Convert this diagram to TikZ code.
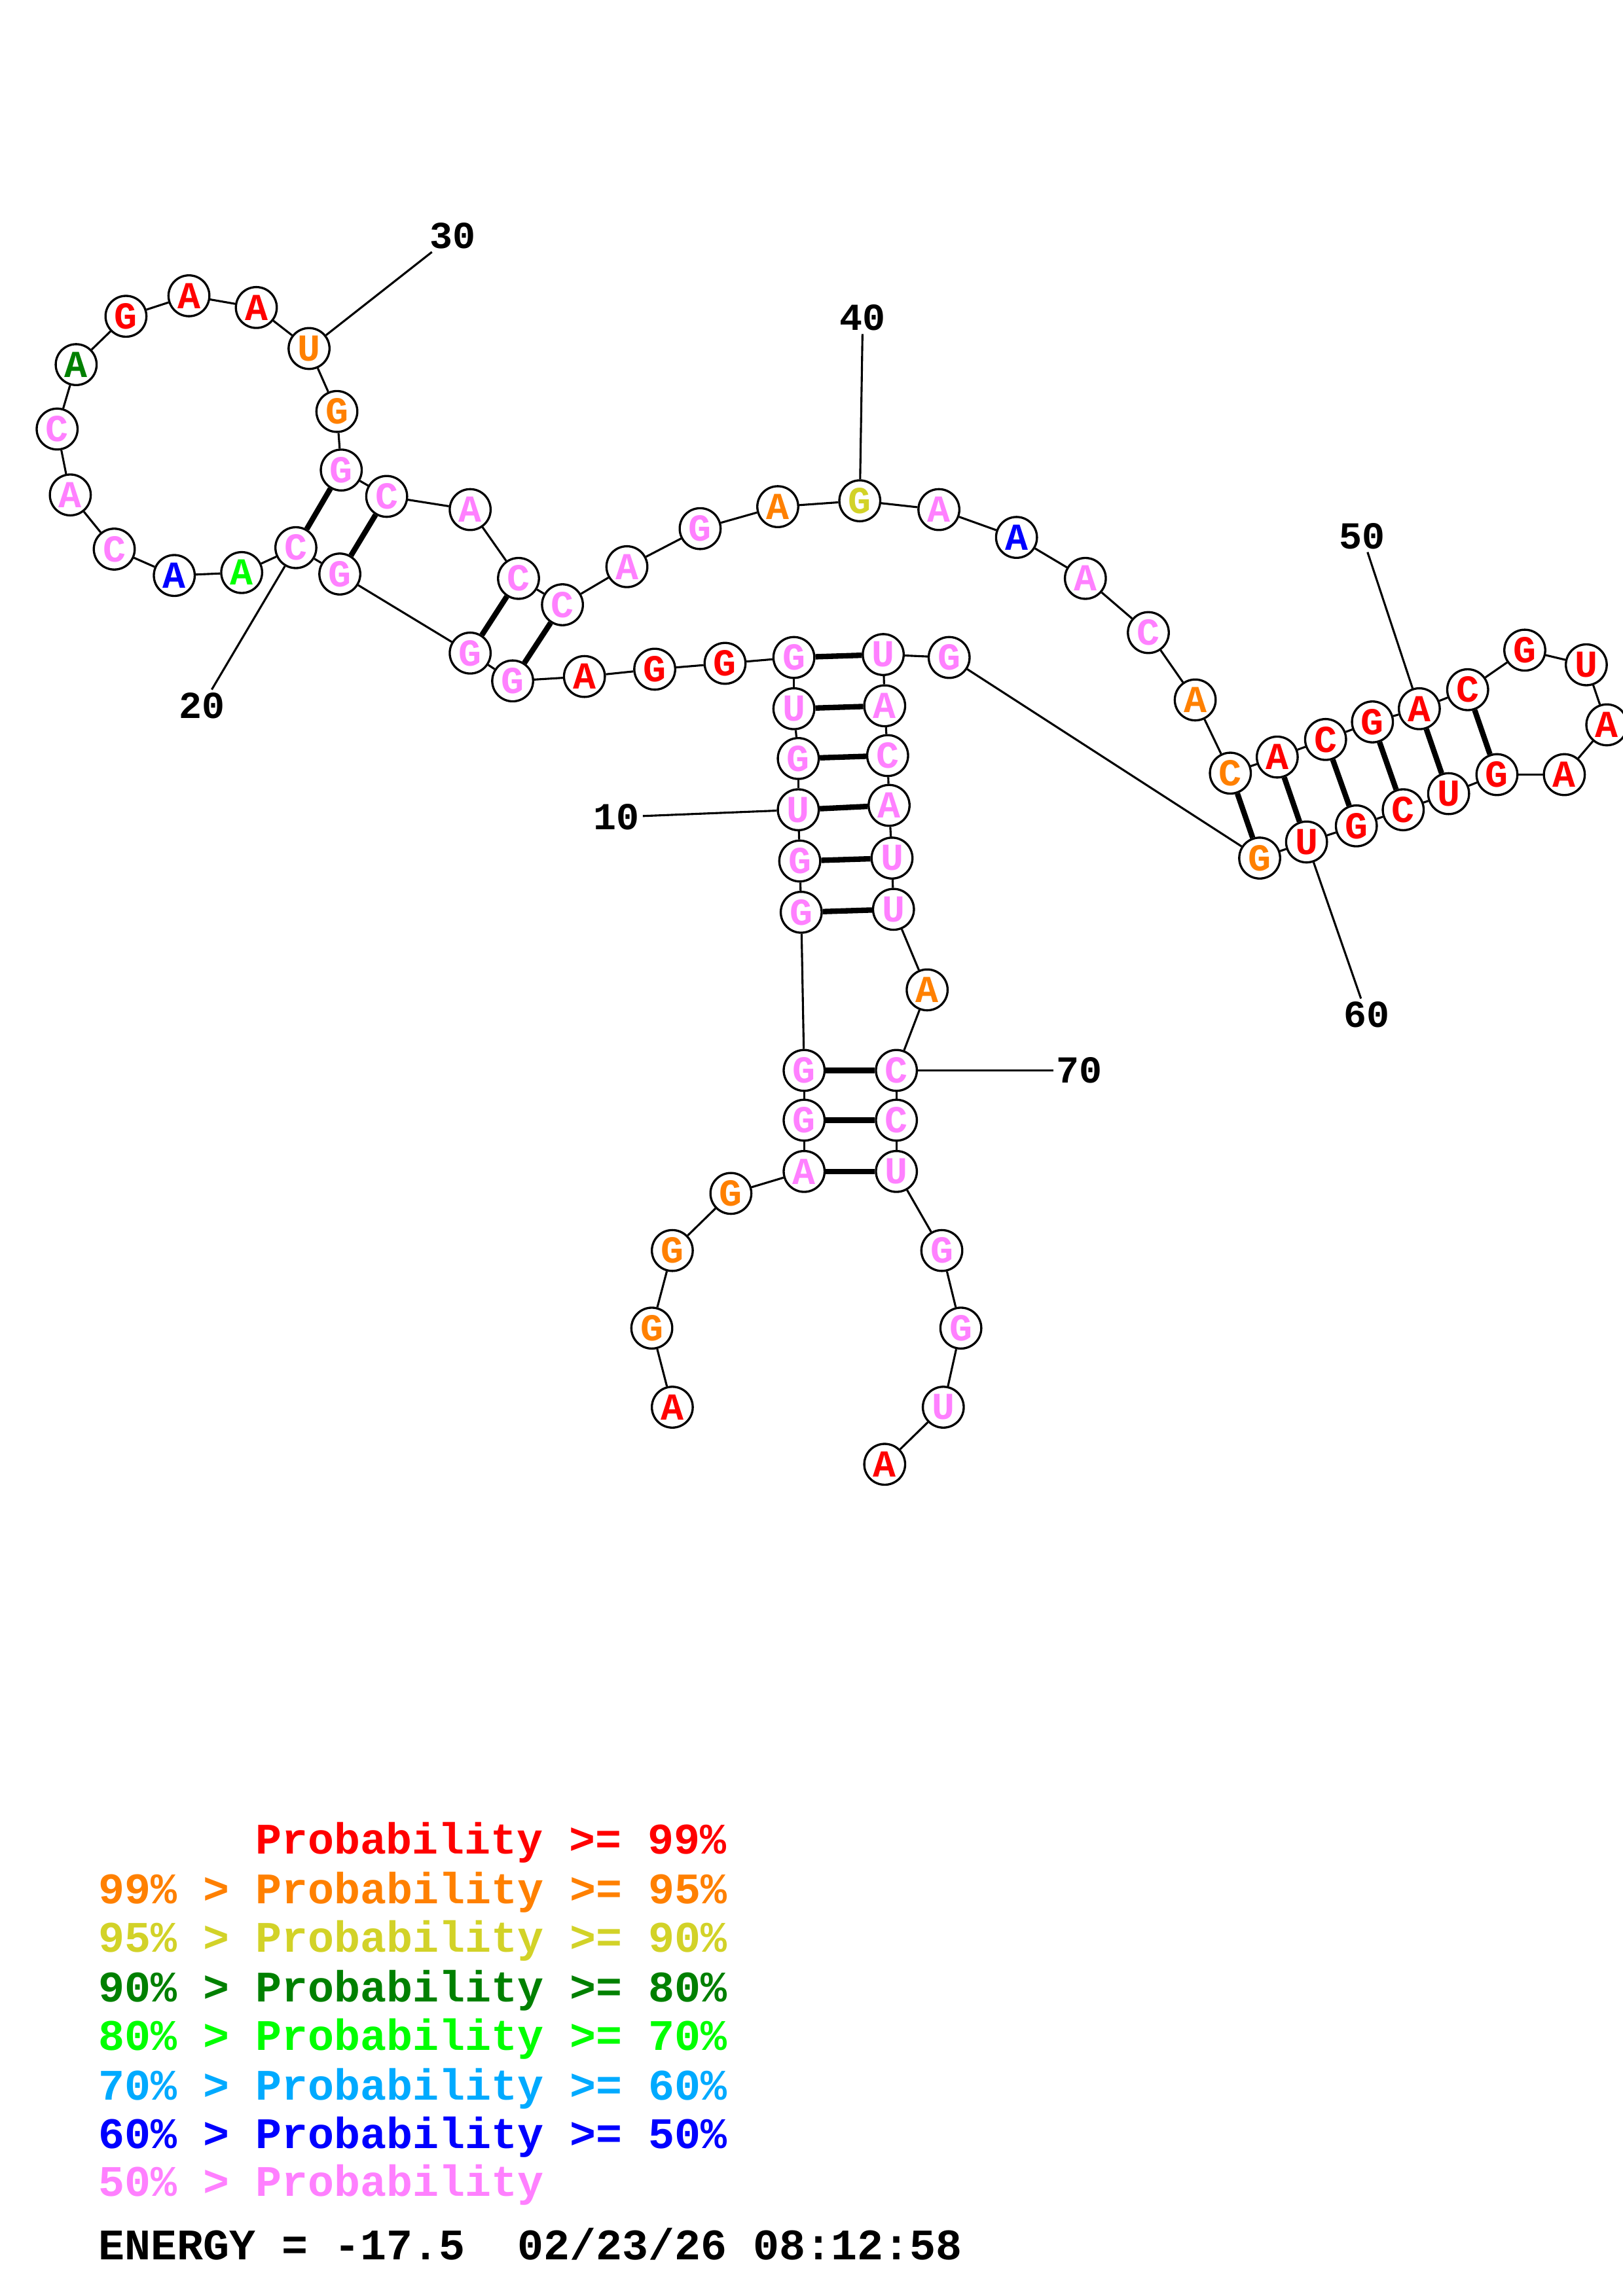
\documentclass[tikz,border=0pt]{standalone}
\usepackage{fontspec}
\newfontfamily\monob{Liberation Mono}[WordSpace={1,0,0}]
\usepackage{tikz}
\definecolor{pr99}{RGB}{255,0,0}
\definecolor{pr95}{RGB}{255,128,0}
\definecolor{pr90}{RGB}{210,210,40}
\definecolor{pr80}{RGB}{0,128,0}
\definecolor{pr70}{RGB}{0,255,0}
\definecolor{pr60}{RGB}{0,170,255}
\definecolor{pr50}{RGB}{0,0,255}
\definecolor{prlow}{RGB}{255,128,255}
\tikzset{
	base/.style={circle,draw,line width=0.8pt,fill=white,minimum size=15pt,inner sep=0pt,
		font=\monob\bfseries\fontsize{14}{14}\selectfont},
	bb/.style={line width=0.75pt},
	pair/.style={line width=2pt},
	num/.style={inner sep=1pt,font=\monob\bfseries\fontsize{14}{14}\selectfont},
	key/.style={anchor=base west,inner sep=0pt,font=\monob\bfseries\fontsize{16}{16}\selectfont}
}

\begin{document}
\begin{tikzpicture}[x=0.5373pt,y=-0.5373pt]
	\useasboundingbox (0,0) rectangle (1108,1568);
	% bases
	\foreach \i/\x/\y/\b/\c in {
		1/459/961/A/pr99, 2/445/907/G/pr95, 3/459/854/G/pr95, 4/499/815/G/pr95,
		5/549/800/A/prlow, 6/549/765/G/prlow, 7/549/731/G/prlow, 8/547/623/G/prlow,
		9/546/588/G/prlow, 10/545/553/U/prlow, 11/545/518/G/prlow, 12/542/484/U/prlow,
		13/542/449/G/prlow, 14/495/453/G/pr99, 15/447/457/G/pr99, 16/399/462/A/pr99,
		17/350/465/G/prlow, 18/321/446/G/prlow, 19/232/392/G/prlow, 20/202/374/C/prlow,
		21/165/391/A/pr70, 22/119/393/A/pr50, 23/78/375/C/prlow, 24/48/338/A/prlow,
		25/39/293/C/prlow, 26/52/249/A/pr80, 27/86/216/G/pr99, 28/129/202/A/pr99,
		29/175/210/A/pr99, 30/211/238/U/pr95, 31/230/281/G/pr95, 32/233/321/G/prlow,
		33/264/339/C/prlow, 34/321/348/A/prlow, 35/354/395/C/prlow, 36/384/413/C/prlow,
		37/428/387/A/prlow, 38/478/361/G/prlow, 39/531/346/A/pr95, 40/587/342/G/pr90,
		41/641/348/A/prlow, 42/694/367/A/pr50, 43/741/395/A/prlow, 44/784/432/C/prlow,
		45/816/478/A/pr95, 46/840/528/C/pr95, 47/872/517/A/pr99, 48/905/505/C/pr99,
		49/937/493/G/pr99, 50/969/484/A/pr99, 51/1002/471/C/pr99, 52/1041/444/G/pr99,
		53/1083/454/U/pr99, 54/1097/495/A/pr99, 55/1068/529/A/pr99, 56/1022/529/G/pr99,
		57/989/542/U/pr99, 58/958/553/C/pr99, 59/926/564/G/pr99, 60/892/575/U/pr99,
		61/860/586/G/pr95, 62/648/449/G/prlow, 63/603/447/U/prlow, 64/604/482/A/prlow,
		65/606/516/C/prlow, 66/607/550/A/prlow, 67/609/586/U/prlow, 68/610/621/U/prlow,
		69/633/676/A/pr95, 70/612/731/C/prlow, 71/612/765/C/prlow, 72/612/800/U/prlow,
		73/643/854/G/prlow, 74/656/907/G/prlow, 75/644/961/U/prlow, 76/604/1000/A/pr99}
		\node[base,text=\c] (n\i) at (\x,\y) {\b};
	% backbone and pairs
	\foreach \i [count=\j from 2] in {1,...,75}
		\draw[bb] (n\i) -- (n\j);
	\foreach \a/\b in {13/63,12/64,11/65,10/66,9/67,8/68,7/70,6/71,5/72,
		32/20,33/19,35/18,36/17,46/61,47/60,48/59,49/58,50/57,51/56}
		\draw[pair] (n\a) -- (n\b);
	% numbering
	\node[num] (l10) at (421,558) {10};
	\node[num] (l20) at (138,482) {20};
	\node[num] (l30) at (309,161) {30};
	\node[num] (l40) at (589,217) {40};
	\node[num] (l50) at (930,366) {50};
	\node[num] (l60) at (933,693) {60};
	\node[num] (l70) at (737,731) {70};
	\foreach \k in {10,20,...,70}
		\draw[bb] (n\k) -- (l\k);
	% legend
	\node[key,pr99] (key99) at (174,1266) {Probability >= 99\%};
	\node[key,pr95] (key95) at (67,1300) {99\% > Probability >= 95\%};
	\node[key,pr90] (key90) at (67,1333) {95\% > Probability >= 90\%};
	\node[key,pr80] (key80) at (67,1367) {90\% > Probability >= 80\%};
	\node[key,pr70] (key70) at (67,1400) {80\% > Probability >= 70\%};
	\node[key,pr60] (key60) at (67,1434) {70\% > Probability >= 60\%};
	\node[key,pr50] (key50) at (67,1467) {60\% > Probability >= 50\%};
	\node[key,prlow] (keylow) at (67,1500) {50\% > Probability};
	\node[key] (energy) at (67,1543) {ENERGY = -17.5~~02/23/26 08:12:58};
\end{tikzpicture}
\end{document}
